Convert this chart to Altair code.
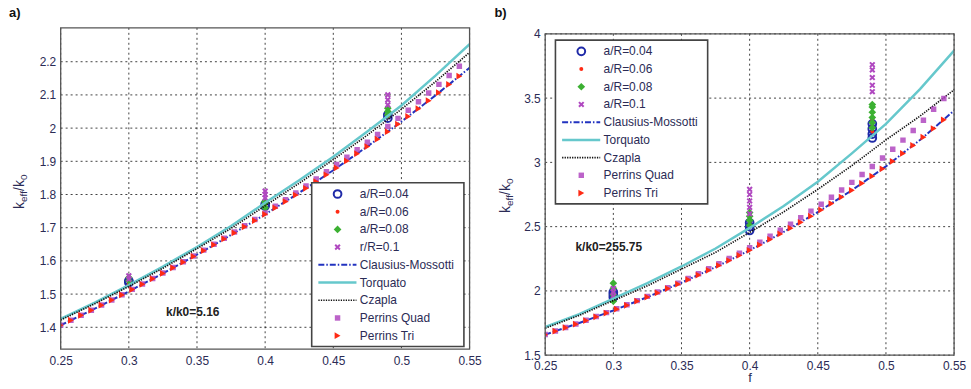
import altair as alt
import pandas as pd

# ---------------- data ----------------
f_marker = [0.25, 0.2575, 0.265, 0.2725, 0.28, 0.2875, 0.295, 0.3025, 0.31, 0.3175,
            0.325, 0.3325, 0.34, 0.3475, 0.355, 0.3625, 0.37, 0.3775, 0.385, 0.3925,
            0.40, 0.4075, 0.415, 0.4225, 0.43, 0.4375, 0.445, 0.4525, 0.46, 0.4675,
            0.475, 0.4825, 0.49, 0.4975, 0.505, 0.5125, 0.52, 0.5275, 0.535, 0.5425]

left_tri = [1.4062, 1.4210, 1.4359, 1.4511, 1.4664, 1.4819, 1.4976, 1.5135, 1.5296, 1.5459,
            1.5624, 1.5791, 1.5961, 1.6133, 1.6307, 1.6483, 1.6662, 1.6843, 1.7027, 1.7213,
            1.7402, 1.7594, 1.7788, 1.7985, 1.8185, 1.8387, 1.8593, 1.8801, 1.9013, 1.9228,
            1.9446, 1.9667, 1.9891, 2.0119, 2.0351, 2.0586, 2.0825, 2.1067, 2.1314, 2.1564]
left_quad = [1.4065, 1.4213, 1.4363, 1.4516, 1.4669, 1.4825, 1.4983, 1.5142, 1.5304, 1.5468,
             1.5635, 1.5803, 1.5975, 1.6149, 1.6325, 1.6503, 1.6685, 1.6869, 1.7056, 1.7246,
             1.7447, 1.7644, 1.7845, 1.8048, 1.8255, 1.8467, 1.8683, 1.8901, 1.9123, 1.9348,
             1.9576, 1.9812, 2.0051, 2.0294, 2.0541, 2.0796, 2.1055, 2.1317, 2.1584, 2.1864]
right_tri = [1.6598, 1.6863, 1.7135, 1.7411, 1.7694, 1.7982, 1.8277, 1.8577, 1.8884, 1.9198,
             1.9519, 1.9847, 2.0182, 2.0525, 2.0875, 2.1234, 2.1601, 2.1977, 2.2362, 2.2757,
             2.3161, 2.3575, 2.4000, 2.4436, 2.4883, 2.5341, 2.5812, 2.6296, 2.6793, 2.7304,
             2.7829, 2.8369, 2.8924, 2.9496, 3.0085, 3.0692, 3.1318, 3.1963, 3.2629, 3.3316]
right_quad = [1.6608, 1.6877, 1.7152, 1.7431, 1.7718, 1.8011, 1.8310, 1.8614, 1.8926, 1.9246,
              1.9574, 1.9909, 2.0252, 2.0606, 2.0967, 2.1339, 2.1720, 2.2112, 2.2514, 2.2930,
              2.3357, 2.3795, 2.4248, 2.4716, 2.5197, 2.5693, 2.6206, 2.6738, 2.7288, 2.7856,
              2.8444, 2.9054, 2.9685, 3.0341, 3.1022, 3.1732, 3.2488, 3.3283, 3.4129, 3.4966]

f_line = [0.25, 0.275, 0.3, 0.325, 0.35, 0.375, 0.4, 0.425, 0.45, 0.475, 0.5, 0.525, 0.55]
left_cm = [1.4062, 1.4561, 1.5081, 1.5624, 1.6190, 1.6783, 1.7402, 1.8051, 1.8731, 1.9446, 2.0196, 2.0986, 2.1818]
left_torq = [1.425, 1.474, 1.527, 1.583, 1.642, 1.705, 1.775, 1.843, 1.914, 1.990, 2.068, 2.158, 2.253]
left_czap = [1.422, 1.471, 1.523, 1.578, 1.637, 1.698, 1.766, 1.834, 1.905, 1.979, 2.057, 2.140, 2.228]
right_cm = [1.6598, 1.7505, 1.8476, 1.9519, 2.0641, 2.1851, 2.3161, 2.4584, 2.6133, 2.7829, 2.9691, 3.1746, 3.4025]
right_torq = [1.72, 1.82, 1.94, 2.06, 2.19, 2.33, 2.49, 2.66, 2.85, 3.07, 3.30, 3.57, 3.87]
right_czap = [1.71, 1.81, 1.925, 2.04, 2.17, 2.30, 2.455, 2.615, 2.79, 2.975, 3.175, 3.36, 3.565]

# simulation points (a/R series)
left_a04_f = [0.3, 0.3, 0.4, 0.4, 0.49, 0.49]
left_a04_v = [1.535, 1.540, 1.765, 1.770, 2.030, 2.040]
left_a06_f = [0.3, 0.3, 0.4, 0.4, 0.49, 0.49]
left_a06_v = [1.530, 1.535, 1.765, 1.772, 2.035, 2.045]
left_a08_f = [0.3, 0.3, 0.4, 0.4, 0.4, 0.49, 0.49, 0.49]
left_a08_v = [1.540, 1.550, 1.760, 1.775, 1.780, 2.040, 2.050, 2.060]
left_a10_f = [0.3, 0.3, 0.4, 0.4, 0.4, 0.49, 0.49, 0.49]
left_a10_v = [1.545, 1.555, 1.790, 1.800, 1.810, 2.070, 2.085, 2.100]

right_a04_f = [0.3, 0.3, 0.3, 0.4, 0.4, 0.4, 0.49, 0.49, 0.49, 0.49]
right_a04_v = [1.95, 1.97, 1.99, 2.47, 2.50, 2.53, 3.19, 3.22, 3.26, 3.30]
right_a06_f = [0.3, 0.3, 0.4, 0.4, 0.49, 0.49, 0.49]
right_a06_v = [1.96, 1.98, 2.50, 2.54, 3.24, 3.28, 3.33]
right_a08_f = [0.3, 0.3, 0.3, 0.3, 0.4, 0.4, 0.4, 0.4, 0.49, 0.49, 0.49, 0.49, 0.49, 0.49]
right_a08_v = [1.92, 1.97, 2.02, 2.06, 2.51, 2.55, 2.58, 2.61, 3.27, 3.31, 3.35, 3.39, 3.43, 3.45]
right_a10_f = [0.3, 0.3, 0.3, 0.4, 0.4, 0.4, 0.4, 0.4, 0.49, 0.49, 0.49, 0.49, 0.49]
right_a10_v = [1.96, 1.99, 2.02, 2.60, 2.65, 2.70, 2.75, 2.79, 3.55, 3.60, 3.66, 3.72, 3.76]

x_ticks = [0.25, 0.3, 0.35, 0.4, 0.45, 0.5, 0.55]
left_y_ticks = [1.4, 1.5, 1.6, 1.7, 1.8, 1.9, 2.0, 2.1, 2.2]
right_y_ticks = [1.5, 2.0, 2.5, 3.0, 3.5, 4.0]

left_labels = ["a/R=0.04", "a/R=0.06", "a/R=0.08", "r/R=0.1", "Clausius-Mossotti",
               "Torquato", "Czapla", "Perrins Quad", "Perrins Tri"]
right_labels = ["a/R=0.04", "a/R=0.06", "a/R=0.08", "a/R=0.1", "Clausius-Mossotti",
                "Torquato", "Czapla", "Perrins Quad", "Perrins Tri"]

# ---------------- styles ----------------
FONT = "Liberation Sans"
TXT = "#2b2b55"
BLUE = "#1f2aa8"
CMBLUE = "#2233c0"
RED = "#ff2a14"
GREEN = "#3cb032"
PURPLE = "#b048c0"
TEAL = "#66c8cc"
XPATH = "M-0.75,-0.75L0.75,0.75M-0.75,0.75L0.75,-0.75"
W, H = 411, 329      # view; the drawn axes box is 323 px tall inside it
BOXH = 323
ONE = pd.DataFrame({"d": [0]})


def sty(kind):
    if kind == "a04":
        return ("point", dict(shape="circle", filled=False, stroke=BLUE, strokeWidth=2, size=60, opacity=1))
    if kind == "a06":
        return ("point", dict(shape="circle", filled=True, color=RED, size=16, opacity=1))
    if kind == "a08":
        return ("point", dict(shape="diamond", filled=True, color=GREEN, size=60, opacity=1))
    if kind == "a10":
        return ("point", dict(shape=XPATH, filled=False, stroke=PURPLE, strokeWidth=2, size=40, opacity=1))
    if kind == "quad":
        return ("point", dict(shape="square", filled=True, color=PURPLE, size=30, opacity=0.85))
    if kind == "tri":
        return ("point", dict(shape="triangle-right", filled=True, color=RED, size=46, opacity=1))
    if kind == "cm":
        return ("line", dict(color=CMBLUE, strokeWidth=2, strokeDash=[6, 2, 1.5, 2]))
    if kind == "torq":
        return ("line", dict(color=TEAL, strokeWidth=2.5))
    if kind == "czap":
        return ("line", dict(color="#111111", strokeWidth=1.7, strokeDash=[1.3, 1.2]))


def panel(fm, tri, quad, fl, cm, torq, czap, scat, ydom, yticks, yfmt, labels,
          note, note_f, note_v, leg_x, leg_y, tag, tag_x, tag_y, yt_x, yt_y, xtitle,
          box_top, lab_pad):
    box_bot = box_top + BOXH
    xs = alt.Scale(domain=[0.25, 0.55], nice=False, zero=False)
    ys = alt.Scale(domain=ydom, nice=False, zero=False)
    xax = alt.Axis(values=x_ticks, format=".2~f", title=xtitle, labelFlush=False,
                   labelOverlap=False, grid=False, labelPadding=lab_pad, titlePadding=0)
    yax = alt.Axis(values=yticks, format=yfmt, title=None, labelFlush=False,
                   labelOverlap=False, grid=False, labelPadding=5)
    X = alt.X("f:Q", scale=xs, axis=xax)
    Y = alt.Y("v:Q", scale=ys, axis=yax)

    gdash = dict(color="#000", opacity=0.75, strokeWidth=1, strokeDash=[2, 3])
    layers = [
        alt.Chart(pd.DataFrame({"f": x_ticks})).mark_rule(**gdash).encode(
            x=X, y=alt.value(box_top), y2=alt.value(box_bot)),
        alt.Chart(pd.DataFrame({"v": yticks})).mark_rule(**gdash).encode(
            y=Y, x=alt.value(0), x2=alt.value(W)),
    ]
    for kind, fv, vv in scat:
        _, kw = sty(kind)
        layers.append(alt.Chart(pd.DataFrame({"f": fv, "v": vv})).mark_point(**kw).encode(x=X, y=Y))
    for kind, vv in [("cm", cm), ("torq", torq), ("czap", czap)]:
        _, kw = sty(kind)
        layers.append(alt.Chart(pd.DataFrame({"f": fl, "v": vv})).mark_line(clip=True, **kw).encode(x=X, y=Y))
    for kind, vv in [("quad", quad), ("tri", tri)]:
        _, kw = sty(kind)
        layers.append(alt.Chart(pd.DataFrame({"f": fm, "v": vv})).mark_point(clip=True, **kw).encode(x=X, y=Y))

    # axes box
    layers.append(alt.Chart(ONE).mark_rect(fillOpacity=0, stroke="#555", strokeWidth=1.3).encode(
        x=alt.value(0), x2=alt.value(W), y=alt.value(box_top), y2=alt.value(box_bot)))

    # annotation
    layers.append(alt.Chart(pd.DataFrame({"f": [note_f], "v": [note_v], "t": [note]})).mark_text(
        align="left", baseline="middle", font=FONT, fontSize=12, fontWeight="bold", color="#222"
    ).encode(x=X, y=Y, text="t:N"))

    # legend box
    bw, bh = 153, 164.6
    layers.append(alt.Chart(ONE).mark_rect(fill="white", stroke="#444", strokeWidth=1.6).encode(
        x=alt.value(leg_x), x2=alt.value(leg_x + bw), y=alt.value(leg_y), y2=alt.value(leg_y + bh)))
    kinds = ["a04", "a06", "a08", "a10", "cm", "torq", "czap", "quad", "tri"]
    for i, (kind, lab) in enumerate(zip(kinds, labels)):
        ry = leg_y + 11.3 + i * 17.8
        mk, kw = sty(kind)
        if mk == "point":
            layers.append(alt.Chart(ONE).mark_point(**kw).encode(
                x=alt.value(leg_x + 26), y=alt.value(ry)))
        else:
            layers.append(alt.Chart(ONE).mark_rule(**kw).encode(
                x=alt.value(leg_x + 6.7), x2=alt.value(leg_x + 45), y=alt.value(ry)))
        layers.append(alt.Chart(ONE).mark_text(align="left", baseline="middle", font=FONT,
                                               fontSize=12, color=TXT).encode(
            x=alt.value(leg_x + 48.4), y=alt.value(ry), text=alt.value(lab)))

    # panel tag
    layers.append(alt.Chart(ONE).mark_text(align="left", baseline="middle", font=FONT, fontSize=13,
                                           fontWeight="bold", color="#111").encode(
        x=alt.value(tag_x), y=alt.value(tag_y), text=alt.value(tag)))

    # y title k_eff / k_0 (rotated, with subscripts)
    parts = [("k", 14, 0, 7.0), ("eff", 10, 3, 11.1), ("/k", 14, 0, 10.9), ("0", 10, 3, 5.6)]
    pos = yt_y
    for txt, fs, dx, wdt in parts:
        layers.append(alt.Chart(ONE).mark_text(align="left", baseline="alphabetic", angle=270,
                                               font=FONT, fontSize=fs, color=TXT).encode(
            x=alt.value(yt_x + dx), y=alt.value(pos), text=alt.value(txt)))
        pos -= wdt

    return alt.layer(*layers).properties(width=W, height=H)


# left panel: box occupies the top 323 px of the view (domain extended 6 px downward)
left = panel(f_marker, left_tri, left_quad, f_line, left_cm, left_torq, left_czap,
             [("a04", left_a04_f, left_a04_v), ("a06", left_a06_f, left_a06_v),
              ("a08", left_a08_f, left_a08_v), ("a10", left_a10_f, left_a10_v)],
             [1.316, 2.302], left_y_ticks, ".1~f", left_labels,
             "k/k0=5.16", 0.3273, 1.446, 252.3, 155.7, "a)", -52, -15, -36.5, 182, None,
             0, 0)

# right panel: box occupies the bottom 323 px of the view (domain extended 6 px upward)
right = panel(f_marker, right_tri, right_quad, f_line, right_cm, right_torq, right_czap,
              [("a04", right_a04_f, right_a04_v), ("a06", right_a06_f, right_a06_v),
               ("a08", right_a08_f, right_a08_v), ("a10", right_a10_f, right_a10_v)],
              [1.5, 4.0466], right_y_ticks, ".1~f", right_labels,
              "k/k0=255.75", 0.2722, 2.344, 10.3, 12.3, "b)", -51, -15, -35, 186, "f",
              6, 5)

chart = alt.hconcat(left, right, spacing=13).properties(
    padding={"left": 9, "top": 6, "right": 5, "bottom": 5}
).configure_view(stroke=None).configure_axis(
    domain=False, ticks=False, labelFont=FONT, labelFontSize=12, labelColor=TXT,
    titleFont=FONT, titleFontSize=13, titleColor=TXT, titleFontWeight="normal"
)

chart.save("out.html", embed_options={"renderer": "svg", "actions": False})
